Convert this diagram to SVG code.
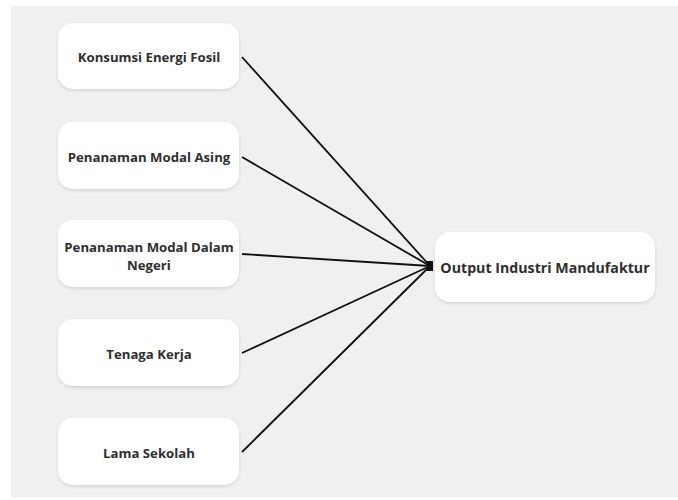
<svg xmlns="http://www.w3.org/2000/svg" width="678" height="500" viewBox="0 0 678 500">
<defs>
<style>
.box{fill:#ffffff;}
.lbl{font-family:"Open Sans","Liberation Sans",sans-serif;font-weight:700;font-size:13.2px;fill:#2e2e2e;text-anchor:middle;dominant-baseline:central;}
.big{font-size:14.2px;}
.conn{stroke:#111;stroke-width:1.8;fill:none;}
</style>
<filter id="sh" x="-10%" y="-10%" width="120%" height="130%">
<feDropShadow dx="0" dy="1.5" stdDeviation="1.5" flood-color="#000" flood-opacity="0.12"/>
</filter>
</defs>
<rect x="0" y="0" width="678" height="500" fill="#ffffff"/>
<rect x="11" y="6" width="667" height="491" fill="#f0f0f0"/>
<g id="connectors">
<line class="conn" x1="242" y1="57" x2="430" y2="266"/>
<line class="conn" x1="242" y1="157" x2="430" y2="266"/>
<line class="conn" x1="242" y1="254" x2="430" y2="266"/>
<line class="conn" x1="242" y1="353" x2="430" y2="266"/>
<line class="conn" x1="242" y1="452" x2="430" y2="266"/>
<rect x="427" y="261" width="6" height="10" fill="#111"/>
</g>
<g id="n1">
<rect class="box" x="58" y="23" width="181" height="66" rx="15" filter="url(#sh)"/>
<text class="lbl" x="149" y="57">Konsumsi Energi Fosil</text>
</g>
<g id="n2">
<rect class="box" x="58" y="122" width="181" height="67" rx="15" filter="url(#sh)"/>
<text class="lbl" x="149" y="157">Penanaman Modal Asing</text>
</g>
<g id="n3">
<rect class="box" x="58" y="220" width="181" height="67" rx="15" filter="url(#sh)"/>
<text class="lbl" x="149" y="247">Penanaman Modal Dalam</text>
<text class="lbl" x="149" y="265">Negeri</text>
</g>
<g id="n4">
<rect class="box" x="58" y="319" width="181" height="67" rx="15" filter="url(#sh)"/>
<text class="lbl" x="149" y="354">Tenaga Kerja</text>
</g>
<g id="n5">
<rect class="box" x="58" y="418" width="181" height="67" rx="15" filter="url(#sh)"/>
<text class="lbl" x="149" y="453">Lama Sekolah</text>
</g>
<g id="out">
<rect class="box" x="435" y="232" width="220" height="70" rx="15" filter="url(#sh)"/>
<text class="lbl big" x="545" y="267">Output Industri Mandufaktur</text>
</g>
</svg>
